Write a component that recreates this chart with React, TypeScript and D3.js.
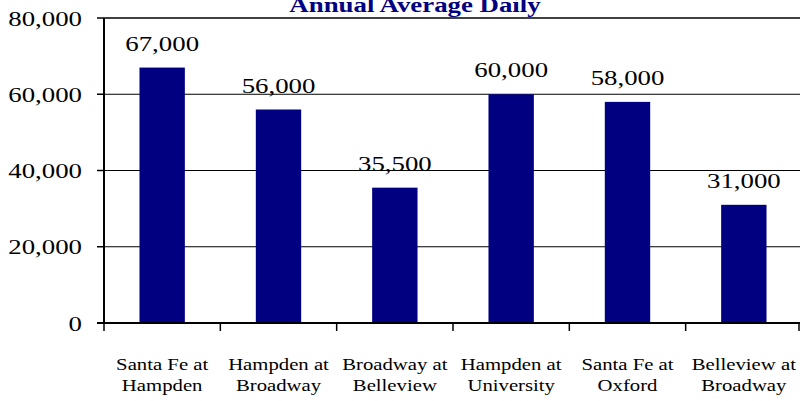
import React from "react";
import * as d3 from "d3";

// chart data
const categories = [
  ["Santa Fe at", "Hampden"],
  ["Hampden at", "Broadway"],
  ["Broadway at", "Belleview"],
  ["Hampden at", "University"],
  ["Santa Fe at", "Oxford"],
  ["Belleview at", "Broadway"],
];
const values = [67000, 56000, 35500, 60000, 58000, 31000];
const valueLabels = ["67,000", "56,000", "35,500", "60,000", "58,000", "31,000"];
const yTicks = [0, 20000, 40000, 60000, 80000];
const title = "Annual Average Daily";

const W = 804;
const H = 401;
const left = 104;
const right = 802;
const top = 18;
const bottom = 323;
const stretch = 1.22;
const font = "Liberation Serif, Times New Roman, serif";

const App = () => {
  const x = d3
    .scaleBand<number>()
    .domain(d3.range(values.length))
    .range([left, right])
    .paddingInner(0.61)
    .paddingOuter(0.305);

  const y = d3.scaleLinear().domain([0, 80000]).range([bottom, top]);
  const fmt = d3.format(",");

  // band boundaries for x ticks
  const step = x.step();
  const xTickPos = d3.range(values.length + 1).map((i) => left + i * step);

  const txt = { fontFamily: font };

  return (
    <svg
      width={W}
      height={H}
      style={{ position: "absolute", left: 0, top: 0, background: "#fff", fontFamily: font }}
    >
      {/* title, clipped at the top */}
      <text
        transform={`translate(415,12) scale(${stretch},1)`}
        textAnchor="middle"
        fontSize={22}
        fontWeight="bold"
        fill="#000080"
        style={txt}
      >
        {title}
      </text>

      {/* gridlines */}
      {yTicks
        .filter((t) => t > 0)
        .map((t) => (
          <line
            key={"g" + t}
            x1={left}
            x2={right - 2}
            y1={y(t)}
            y2={y(t)}
            stroke="#000"
            strokeWidth={t === 80000 ? 1.5 : 1}
          />
        ))}

      {/* bars */}
      {values.map((v, i) => (
        <rect
          key={"b" + i}
          x={x(i)}
          y={y(v)}
          width={x.bandwidth()}
          height={bottom - y(v)}
          fill="#000080"
        />
      ))}

      {/* value labels */}
      {values.map((v, i) => (
        <text
          key={"v" + i}
          transform={`translate(${(x(i) as number) + x.bandwidth() / 2},${y(v) - 17}) scale(${stretch},1)`}
          textAnchor="middle"
          fontSize={22}
          fill="#000"
          style={txt}
        >
          {valueLabels[i]}
        </text>
      ))}

      {/* y axis */}
      <line x1={left} x2={left} y1={top} y2={bottom} stroke="#000" strokeWidth={2} />
      {yTicks.map((t) => (
        <g key={"y" + t}>
          <line x1={left - 7} x2={left} y1={y(t)} y2={y(t)} stroke="#000" strokeWidth={1.5} />
          <text
            transform={`translate(82,${y(t) + 7.5}) scale(${stretch},1)`}
            textAnchor="end"
            fontSize={22}
            fill="#000"
            style={txt}
          >
            {t === 0 ? "0" : fmt(t)}
          </text>
        </g>
      ))}

      {/* x axis */}
      <line x1={left - 7} x2={right - 2} y1={bottom} y2={bottom} stroke="#000" strokeWidth={2} />
      {xTickPos.map((p, i) => (
        <line
          key={"xt" + i}
          x1={Math.min(p, right - 3)}
          x2={Math.min(p, right - 3)}
          y1={bottom}
          y2={bottom + 8}
          stroke="#000"
          strokeWidth={1.5}
        />
      ))}
      {categories.map((c, i) => (
        <g key={"c" + i}>
          {c.map((line, j) => (
            <text
              key={j}
              transform={`translate(${(x(i) as number) + x.bandwidth() / 2},${370 + j * 21}) scale(${stretch},1)`}
              textAnchor="middle"
              fontSize={17}
              fill="#000"
              style={txt}
            >
              {line}
            </text>
          ))}
        </g>
      ))}
    </svg>
  );
};

export default App;
